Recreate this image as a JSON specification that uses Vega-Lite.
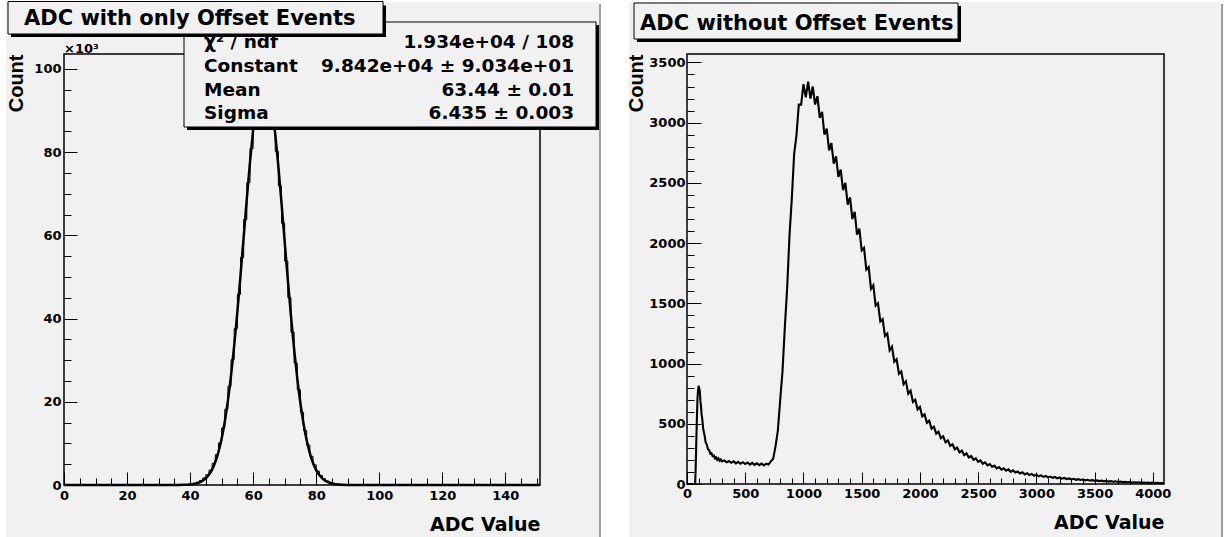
{
  "$schema": "https://vega.github.io/schema/vega-lite/v6.json",
  "background": "white",
  "padding": {"left": 5, "top": 0, "right": 0, "bottom": 0},
  "spacing": 25,
  "config": {
    "font": "DejaVu Sans",
    "view": {"stroke": null},
    "axis": {
      "grid": false, "domain": false, "tickColor": "black", "tickWidth": 1,
      "labelColor": "black", "labelFont": "DejaVu Sans", "labelFontWeight": "bold", "labelFontSize": 13,
      "labelOverlap": false, "labelFlush": false, "titleColor": "black"
    }
  },
  "datasets": {
    "left_hist": [
      {"adc": 0, "count": 0}, {"adc": 36, "count": 15}, {"adc": 37, "count": 30}, {"adc": 38, "count": 80},
      {"adc": 39, "count": 150}, {"adc": 40, "count": 250}, {"adc": 41, "count": 420}, {"adc": 42, "count": 700},
      {"adc": 43, "count": 1100}, {"adc": 44, "count": 1700}, {"adc": 45, "count": 2500}, {"adc": 46, "count": 3600},
      {"adc": 47, "count": 5200}, {"adc": 48, "count": 7300}, {"adc": 49, "count": 10100}, {"adc": 50, "count": 13700},
      {"adc": 51, "count": 18200}, {"adc": 52, "count": 23700}, {"adc": 53, "count": 30100}, {"adc": 54, "count": 37600},
      {"adc": 55, "count": 45800}, {"adc": 56, "count": 54700}, {"adc": 57, "count": 63800}, {"adc": 58, "count": 72700},
      {"adc": 59, "count": 80900}, {"adc": 60, "count": 88000}, {"adc": 61, "count": 93400}, {"adc": 62, "count": 96800},
      {"adc": 63, "count": 97900}, {"adc": 64, "count": 96600}, {"adc": 65, "count": 93000}, {"adc": 66, "count": 87400},
      {"adc": 67, "count": 80200}, {"adc": 68, "count": 71900}, {"adc": 69, "count": 62900}, {"adc": 70, "count": 53800},
      {"adc": 71, "count": 45000}, {"adc": 72, "count": 36700}, {"adc": 73, "count": 29300}, {"adc": 74, "count": 22900},
      {"adc": 75, "count": 17500}, {"adc": 76, "count": 13100}, {"adc": 77, "count": 9600}, {"adc": 78, "count": 6900},
      {"adc": 79, "count": 4850}, {"adc": 80, "count": 3350}, {"adc": 81, "count": 2250}, {"adc": 82, "count": 1500},
      {"adc": 83, "count": 980}, {"adc": 84, "count": 640}, {"adc": 85, "count": 410}, {"adc": 86, "count": 260},
      {"adc": 87, "count": 160}, {"adc": 88, "count": 100}, {"adc": 89, "count": 60}, {"adc": 90, "count": 35},
      {"adc": 91, "count": 20}, {"adc": 92, "count": 10}, {"adc": 93, "count": 0}, {"adc": 151, "count": 0}
    ],
    "left_fit": [
      {"adc": 0, "fit": 0}, {"adc": 30, "fit": 0}, {"adc": 34, "fit": 2}, {"adc": 36, "fit": 11}, {"adc": 38, "fit": 40},
      {"adc": 40, "fit": 129}, {"adc": 41, "fit": 225}, {"adc": 42, "fit": 382}, {"adc": 43, "fit": 634},
      {"adc": 44, "fit": 1026}, {"adc": 45, "fit": 1622}, {"adc": 46, "fit": 2501}, {"adc": 47, "fit": 3765},
      {"adc": 48, "fit": 5533}, {"adc": 49, "fit": 7937}, {"adc": 50, "fit": 11111}, {"adc": 51, "fit": 15186},
      {"adc": 52, "fit": 20267}, {"adc": 53, "fit": 26394}, {"adc": 54, "fit": 33554}, {"adc": 55, "fit": 41643},
      {"adc": 56, "fit": 50443}, {"adc": 57, "fit": 59647}, {"adc": 58, "fit": 68850}, {"adc": 59, "fit": 77572},
      {"adc": 60, "fit": 85314}, {"adc": 61, "fit": 91592}, {"adc": 62, "fit": 95989}, {"adc": 63, "fit": 98190},
      {"adc": 63.44, "fit": 98420}, {"adc": 64, "fit": 98048}, {"adc": 65, "fit": 95570}, {"adc": 66, "fit": 90934},
      {"adc": 67, "fit": 84455}, {"adc": 68, "fit": 76568}, {"adc": 69, "fit": 67758}, {"adc": 70, "fit": 58536},
      {"adc": 71, "fit": 49360}, {"adc": 72, "fit": 40628}, {"adc": 73, "fit": 32643}, {"adc": 74, "fit": 25604},
      {"adc": 75, "fit": 19603}, {"adc": 76, "fit": 14648}, {"adc": 77, "fit": 10685}, {"adc": 78, "fit": 7610},
      {"adc": 79, "fit": 5290}, {"adc": 80, "fit": 3589}, {"adc": 81, "fit": 2377}, {"adc": 82, "fit": 1537},
      {"adc": 83, "fit": 970}, {"adc": 84, "fit": 598}, {"adc": 85, "fit": 359}, {"adc": 86, "fit": 211},
      {"adc": 87, "fit": 121}, {"adc": 88, "fit": 68}, {"adc": 90, "fit": 20}, {"adc": 92, "fit": 5},
      {"adc": 96, "fit": 0}, {"adc": 151, "fit": 0}
    ],
    "right_hist": [
      {"adc": 0, "count": 0}, {"adc": 60, "count": 0}, {"adc": 70, "count": 0}, {"adc": 75, "count": 150},
      {"adc": 80, "count": 360}, {"adc": 85, "count": 540}, {"adc": 90, "count": 710}, {"adc": 95, "count": 775},
      {"adc": 100, "count": 815}, {"adc": 105, "count": 795}, {"adc": 110, "count": 768}, {"adc": 115, "count": 690},
      {"adc": 120, "count": 648}, {"adc": 125, "count": 580}, {"adc": 130, "count": 548}, {"adc": 140, "count": 452},
      {"adc": 150, "count": 408}, {"adc": 160, "count": 348}, {"adc": 170, "count": 328}, {"adc": 180, "count": 289},
      {"adc": 190, "count": 282}, {"adc": 200, "count": 252}, {"adc": 210, "count": 256}, {"adc": 220, "count": 232},
      {"adc": 230, "count": 236}, {"adc": 240, "count": 212}, {"adc": 250, "count": 222}, {"adc": 260, "count": 201},
      {"adc": 270, "count": 212}, {"adc": 280, "count": 193}, {"adc": 290, "count": 203}, {"adc": 300, "count": 187},
      {"adc": 320, "count": 196}, {"adc": 340, "count": 180}, {"adc": 360, "count": 191}, {"adc": 380, "count": 176},
      {"adc": 400, "count": 188}, {"adc": 420, "count": 171}, {"adc": 440, "count": 184}, {"adc": 460, "count": 168},
      {"adc": 480, "count": 181}, {"adc": 500, "count": 166}, {"adc": 520, "count": 178}, {"adc": 540, "count": 161},
      {"adc": 560, "count": 175}, {"adc": 580, "count": 159}, {"adc": 600, "count": 172}, {"adc": 620, "count": 157},
      {"adc": 640, "count": 170}, {"adc": 660, "count": 154}, {"adc": 680, "count": 168}, {"adc": 700, "count": 161},
      {"adc": 720, "count": 188}, {"adc": 740, "count": 209}, {"adc": 760, "count": 312}, {"adc": 780, "count": 440},
      {"adc": 800, "count": 695}, {"adc": 820, "count": 935}, {"adc": 840, "count": 1300}, {"adc": 860, "count": 1625},
      {"adc": 880, "count": 2060}, {"adc": 900, "count": 2370}, {"adc": 920, "count": 2740}, {"adc": 940, "count": 2895},
      {"adc": 960, "count": 3150}, {"adc": 980, "count": 3150}, {"adc": 1000, "count": 3320}, {"adc": 1020, "count": 3210},
      {"adc": 1040, "count": 3340}, {"adc": 1060, "count": 3200}, {"adc": 1080, "count": 3300}, {"adc": 1100, "count": 3150},
      {"adc": 1120, "count": 3220}, {"adc": 1140, "count": 3040}, {"adc": 1160, "count": 3090}, {"adc": 1180, "count": 2900},
      {"adc": 1200, "count": 2950}, {"adc": 1220, "count": 2770}, {"adc": 1240, "count": 2830}, {"adc": 1260, "count": 2660},
      {"adc": 1280, "count": 2720}, {"adc": 1300, "count": 2550}, {"adc": 1320, "count": 2610}, {"adc": 1340, "count": 2440},
      {"adc": 1360, "count": 2500}, {"adc": 1380, "count": 2320}, {"adc": 1400, "count": 2380}, {"adc": 1420, "count": 2200},
      {"adc": 1440, "count": 2260}, {"adc": 1460, "count": 2070}, {"adc": 1480, "count": 2120}, {"adc": 1500, "count": 1940},
      {"adc": 1520, "count": 1960}, {"adc": 1540, "count": 1780}, {"adc": 1560, "count": 1800}, {"adc": 1580, "count": 1620},
      {"adc": 1600, "count": 1650}, {"adc": 1620, "count": 1480}, {"adc": 1640, "count": 1500}, {"adc": 1660, "count": 1350},
      {"adc": 1680, "count": 1370}, {"adc": 1700, "count": 1230}, {"adc": 1720, "count": 1250}, {"adc": 1740, "count": 1110},
      {"adc": 1760, "count": 1140}, {"adc": 1780, "count": 1015}, {"adc": 1800, "count": 1035}, {"adc": 1820, "count": 915},
      {"adc": 1840, "count": 935}, {"adc": 1860, "count": 828}, {"adc": 1880, "count": 852}, {"adc": 1900, "count": 750},
      {"adc": 1920, "count": 775}, {"adc": 1940, "count": 682}, {"adc": 1960, "count": 700}, {"adc": 1980, "count": 620},
      {"adc": 2000, "count": 640}, {"adc": 2020, "count": 562}, {"adc": 2040, "count": 578}, {"adc": 2060, "count": 508},
      {"adc": 2080, "count": 526}, {"adc": 2100, "count": 460}, {"adc": 2120, "count": 476}, {"adc": 2140, "count": 418},
      {"adc": 2160, "count": 434}, {"adc": 2180, "count": 380}, {"adc": 2200, "count": 396}, {"adc": 2220, "count": 346},
      {"adc": 2240, "count": 362}, {"adc": 2260, "count": 316}, {"adc": 2280, "count": 330}, {"adc": 2300, "count": 288},
      {"adc": 2320, "count": 302}, {"adc": 2340, "count": 263}, {"adc": 2360, "count": 277}, {"adc": 2380, "count": 240},
      {"adc": 2400, "count": 254}, {"adc": 2420, "count": 220}, {"adc": 2440, "count": 232}, {"adc": 2460, "count": 201},
      {"adc": 2480, "count": 213}, {"adc": 2500, "count": 184}, {"adc": 2520, "count": 196}, {"adc": 2540, "count": 168},
      {"adc": 2560, "count": 180}, {"adc": 2580, "count": 154}, {"adc": 2600, "count": 165}, {"adc": 2620, "count": 141},
      {"adc": 2640, "count": 152}, {"adc": 2660, "count": 130}, {"adc": 2680, "count": 140}, {"adc": 2700, "count": 119},
      {"adc": 2720, "count": 130}, {"adc": 2740, "count": 110}, {"adc": 2760, "count": 121}, {"adc": 2780, "count": 101},
      {"adc": 2800, "count": 113}, {"adc": 2820, "count": 95}, {"adc": 2840, "count": 104}, {"adc": 2860, "count": 87},
      {"adc": 2880, "count": 97}, {"adc": 2900, "count": 80}, {"adc": 2920, "count": 90}, {"adc": 2940, "count": 74},
      {"adc": 2960, "count": 84}, {"adc": 2980, "count": 69}, {"adc": 3000, "count": 78}, {"adc": 3020, "count": 64},
      {"adc": 3040, "count": 72}, {"adc": 3060, "count": 59}, {"adc": 3080, "count": 67}, {"adc": 3100, "count": 55},
      {"adc": 3120, "count": 62}, {"adc": 3140, "count": 51}, {"adc": 3160, "count": 58}, {"adc": 3180, "count": 47},
      {"adc": 3200, "count": 54}, {"adc": 3220, "count": 44}, {"adc": 3240, "count": 50}, {"adc": 3260, "count": 41},
      {"adc": 3280, "count": 46}, {"adc": 3300, "count": 38}, {"adc": 3320, "count": 43}, {"adc": 3340, "count": 35},
      {"adc": 3360, "count": 40}, {"adc": 3380, "count": 33}, {"adc": 3400, "count": 37}, {"adc": 3420, "count": 30},
      {"adc": 3440, "count": 35}, {"adc": 3460, "count": 28}, {"adc": 3480, "count": 32}, {"adc": 3500, "count": 26},
      {"adc": 3520, "count": 30}, {"adc": 3540, "count": 24}, {"adc": 3560, "count": 28}, {"adc": 3580, "count": 22},
      {"adc": 3600, "count": 26}, {"adc": 3620, "count": 20}, {"adc": 3640, "count": 24}, {"adc": 3660, "count": 19},
      {"adc": 3680, "count": 22}, {"adc": 3700, "count": 17}, {"adc": 3720, "count": 20}, {"adc": 3740, "count": 16},
      {"adc": 3760, "count": 19}, {"adc": 3780, "count": 14}, {"adc": 3800, "count": 17}, {"adc": 3820, "count": 13},
      {"adc": 3840, "count": 15}, {"adc": 3860, "count": 12}, {"adc": 3880, "count": 14}, {"adc": 3900, "count": 11},
      {"adc": 3920, "count": 13}, {"adc": 3940, "count": 10}, {"adc": 3960, "count": 12}, {"adc": 3980, "count": 9},
      {"adc": 4000, "count": 11}, {"adc": 4020, "count": 8}, {"adc": 4040, "count": 9}, {"adc": 4060, "count": 7},
      {"adc": 4080, "count": 8}, {"adc": 4096, "count": 5}
    ]
  },
  "hconcat": [
    {
      "width": 476,
      "height": 431,
      "resolve": {"axis": {"x": "independent", "y": "independent"}},
      "layer": [
        {
          "data": {"values": [{}]},
          "mark": {"type": "rect", "fill": "#9c9c9c"},
          "encoding": {"x": {"datum": -17.76, "axis": null}, "x2": {"datum": 170.35}, "y": {"datum": 115618, "axis": null}, "y2": {"datum": -12979}}
        },
        {
          "data": {"values": [{}]},
          "mark": {"type": "rect", "fill": "#f1f1f1"},
          "encoding": {"x": {"datum": -18.4, "axis": null}, "x2": {"datum": 169.72}, "y": {"datum": 116099, "axis": null}, "y2": {"datum": -12498}}
        },
        {
          "data": {"values": [{}]},
          "mark": {"type": "rect", "fillOpacity": 0, "stroke": "black", "strokeWidth": 1.5},
          "encoding": {"x": {"datum": 0, "axis": null}, "x2": {"datum": 151}, "y": {"datum": 0, "axis": null}, "y2": {"datum": 103600}}
        },
        {
          "data": {"name": "left_hist"},
          "mark": {"type": "line", "interpolate": "step-after", "color": "black", "strokeWidth": 1},
          "encoding": {
            "x": {
              "field": "adc", "type": "quantitative",
              "scale": {"domain": [0, 151], "nice": false, "zero": false},
              "axis": {
                "zindex": 2, "orient": "bottom", "values": [0, 20, 40, 60, 80, 100, 120, 140], "tickSize": -13, "labelPadding": 17,
                "labelFontSize": 13, "labelFontWeight": "bold",
                "title": "ADC Value", "titleAnchor": "end", "titleAlign": "right", "titleFont": "DejaVu Sans",
                "titleFontSize": 19, "titleFontWeight": "bold", "titlePadding": 13
              }
            },
            "y": {
              "field": "count", "type": "quantitative",
              "scale": {"domain": [0, 103600], "nice": false, "zero": false},
              "axis": {
                "zindex": 2, "orient": "left", "values": [0, 20000, 40000, 60000, 80000, 100000], "labelExpr": "datum.value / 1000",
                "tickSize": -13, "labelPadding": 16, "labelFontSize": 13, "labelFontWeight": "bold",
                "title": "Count", "titleAnchor": "end", "titleAlign": "right", "titleFont": "Liberation Sans",
                "titleFontSize": 20, "titleFontWeight": "bold", "titlePadding": 7
              }
            }
          }
        },
        {
          "data": {"name": "left_fit"},
          "mark": {"type": "line", "interpolate": "monotone", "color": "black", "strokeWidth": 2.5},
          "encoding": {
            "x": {
              "field": "adc", "type": "quantitative",
              "scale": {"domain": [0, 151], "nice": false, "zero": false},
              "axis": {
                "zindex": 2, "orient": "bottom", "values": [5, 10, 15, 25, 30, 35, 45, 50, 55, 65, 70, 75, 85, 90, 95, 105, 110, 115, 125, 130, 135, 145, 150],
                "tickSize": -7, "labels": false, "title": null
              }
            },
            "y": {
              "field": "fit", "type": "quantitative",
              "scale": {"domain": [0, 103600], "nice": false, "zero": false},
              "axis": {
                "zindex": 2, "orient": "left", "values": [5000, 10000, 15000, 25000, 30000, 35000, 45000, 50000, 55000, 65000, 70000, 75000, 85000, 90000, 95000],
                "tickSize": -7, "labels": false, "title": null
              }
            }
          }
        },
        {
          "data": {"values": [{}]},
          "mark": {"type": "rect", "fill": "black"},
          "encoding": {"x": {"datum": 39.02, "axis": null}, "x2": {"datum": 169.72}, "y": {"datum": 110571, "axis": null}, "y2": {"datum": 85332}}
        },
        {
          "data": {"values": [{}]},
          "mark": {"type": "rect", "fill": "#f1f1f1", "stroke": "black", "strokeWidth": 1},
          "encoding": {"x": {"datum": 38.07, "axis": null}, "x2": {"datum": 168.77}, "y": {"datum": 111292, "axis": null}, "y2": {"datum": 86053}}
        },
        {
          "data": {"values": [{"names": "χ² / ndf\nConstant\nMean\nSigma", "vals": "1.934e+04 / 108\n9.842e+04 ± 9.034e+01\n63.44 ± 0.01\n6.435 ± 0.003"}]},
          "mark": {"type": "text", "align": "left", "baseline": "middle", "lineBreak": "\n", "lineHeight": 23.8, "font": "DejaVu Sans", "fontWeight": "bold", "fontSize": 18.5, "color": "black"},
          "encoding": {"x": {"datum": 44.41, "axis": null}, "y": {"datum": 106484, "axis": null}, "text": {"field": "names"}}
        },
        {
          "data": {"values": [{"names": "χ² / ndf\nConstant\nMean\nSigma", "vals": "1.934e+04 / 108\n9.842e+04 ± 9.034e+01\n63.44 ± 0.01\n6.435 ± 0.003"}]},
          "mark": {"type": "text", "align": "right", "baseline": "middle", "lineBreak": "\n", "lineHeight": 23.8, "font": "DejaVu Sans", "fontWeight": "bold", "fontSize": 18.5, "color": "black"},
          "encoding": {"x": {"datum": 161.79, "axis": null}, "y": {"datum": 106484, "axis": null}, "text": {"field": "vals"}}
        },
        {
          "data": {"values": [{}]},
          "mark": {"type": "rect", "fill": "black"},
          "encoding": {"x": {"datum": -16.81, "axis": null}, "x2": {"datum": 102.15}, "y": {"datum": 115258, "axis": null}, "y2": {"datum": 107686}}
        },
        {
          "data": {"values": [{}]},
          "mark": {"type": "rect", "fill": "#f1f1f1", "stroke": "black", "strokeWidth": 1},
          "encoding": {"x": {"datum": -17.76, "axis": null}, "x2": {"datum": 101.2}, "y": {"datum": 116220, "axis": null}, "y2": {"datum": 108407}}
        },
        {
          "data": {"values": [{"title": "ADC with only Offset Events"}]},
          "mark": {"type": "text", "align": "left", "baseline": "middle", "font": "DejaVu Sans", "fontWeight": "bold", "fontSize": 21, "color": "black"},
          "encoding": {"x": {"datum": -12.69, "axis": null}, "y": {"datum": 112085, "axis": null}, "text": {"field": "title"}}
        },
        {
          "data": {"values": [{"mult": "×10³"}]},
          "mark": {"type": "text", "align": "left", "baseline": "alphabetic", "dy": -1, "font": "DejaVu Sans", "fontWeight": "bold", "fontSize": 13, "color": "black"},
          "encoding": {"x": {"datum": 0, "axis": null}, "y": {"datum": 103600, "axis": null}, "text": {"field": "mult"}}
        }
      ]
    },
    {
      "width": 477,
      "height": 430,
      "resolve": {"axis": {"x": "independent", "y": "independent"}},
      "layer": [
        {
          "data": {"values": [{}]},
          "mark": {"type": "rect", "fill": "#9c9c9c"},
          "encoding": {"x": {"datum": -480.9, "axis": null}, "x2": {"datum": 4602.7}, "y": {"datum": 3985.1, "axis": null}, "y2": {"datum": -456.6}}
        },
        {
          "data": {"values": [{}]},
          "mark": {"type": "rect", "fill": "#f1f1f1"},
          "encoding": {"x": {"datum": -498.0, "axis": null}, "x2": {"datum": 4585.5}, "y": {"datum": 4001.7, "axis": null}, "y2": {"datum": -440.0}}
        },
        {
          "data": {"values": [{}]},
          "mark": {"type": "rect", "fillOpacity": 0, "stroke": "black", "strokeWidth": 1.5},
          "encoding": {"x": {"datum": 0, "axis": null}, "x2": {"datum": 4096}, "y": {"datum": 0, "axis": null}, "y2": {"datum": 3570}}
        },
        {
          "data": {"name": "right_hist"},
          "mark": {"type": "line", "color": "black", "strokeWidth": 2.1},
          "encoding": {
            "x": {
              "field": "adc", "type": "quantitative",
              "scale": {"domain": [0, 4096], "nice": false, "zero": false},
              "axis": {
                "zindex": 2, "orient": "bottom", "values": [0, 500, 1000, 1500, 2000, 2500, 3000, 3500, 4000], "format": "d",
                "tickSize": -12, "labelPadding": 15, "labelFontSize": 13, "labelFontWeight": "bold",
                "title": "ADC Value", "titleAnchor": "end", "titleAlign": "right", "titleFont": "DejaVu Sans",
                "titleFontSize": 19, "titleFontWeight": "bold", "titlePadding": 13
              }
            },
            "y": {
              "field": "count", "type": "quantitative",
              "scale": {"domain": [0, 3570], "nice": false, "zero": false},
              "axis": {
                "zindex": 2, "orient": "left", "values": [0, 500, 1000, 1500, 2000, 2500, 3000, 3500], "format": "d",
                "tickSize": -14, "labelPadding": 16, "labelFontSize": 13, "labelFontWeight": "bold",
                "title": "Count", "titleAnchor": "end", "titleAlign": "right", "titleFont": "Liberation Sans",
                "titleFontSize": 20, "titleFontWeight": "bold", "titlePadding": 2
              }
            }
          }
        },
        {
          "data": {"name": "right_hist"},
          "mark": {"type": "line", "opacity": 0},
          "encoding": {
            "x": {
              "field": "adc", "type": "quantitative",
              "scale": {"domain": [0, 4096], "nice": false, "zero": false},
              "axis": {
                "zindex": 2, "orient": "bottom",
                "values": [100, 200, 300, 400, 600, 700, 800, 900, 1100, 1200, 1300, 1400, 1600, 1700, 1800, 1900, 2100, 2200, 2300, 2400, 2600, 2700, 2800, 2900, 3100, 3200, 3300, 3400, 3600, 3700, 3800, 3900],
                "tickSize": -6, "labels": false, "title": null
              }
            },
            "y": {
              "field": "count", "type": "quantitative",
              "scale": {"domain": [0, 3570], "nice": false, "zero": false},
              "axis": {
                "zindex": 2, "orient": "left",
                "values": [100, 200, 300, 400, 600, 700, 800, 900, 1100, 1200, 1300, 1400, 1600, 1700, 1800, 1900, 2100, 2200, 2300, 2400, 2600, 2700, 2800, 2900, 3100, 3200, 3300, 3400],
                "tickSize": -7, "labels": false, "title": null
              }
            }
          }
        },
        {
          "data": {"values": [{}]},
          "mark": {"type": "rect", "fill": "black"},
          "encoding": {"x": {"datum": -429.4, "axis": null}, "x2": {"datum": 2352.8}, "y": {"datum": 3968.5, "axis": null}, "y2": {"datum": 3669.6}}
        },
        {
          "data": {"values": [{}]},
          "mark": {"type": "rect", "fill": "#f1f1f1", "stroke": "black", "strokeWidth": 1},
          "encoding": {"x": {"datum": -455.1, "axis": null}, "x2": {"datum": 2327.1}, "y": {"datum": 3993.4, "axis": null}, "y2": {"datum": 3694.5}}
        },
        {
          "data": {"values": [{"title": "ADC without Offset Events"}]},
          "mark": {"type": "text", "align": "left", "baseline": "middle", "font": "DejaVu Sans", "fontWeight": "bold", "fontSize": 21, "color": "black"},
          "encoding": {"x": {"datum": -403.6, "axis": null}, "y": {"datum": 3821.6, "axis": null}, "text": {"field": "title"}}
        }
      ]
    }
  ]
}
